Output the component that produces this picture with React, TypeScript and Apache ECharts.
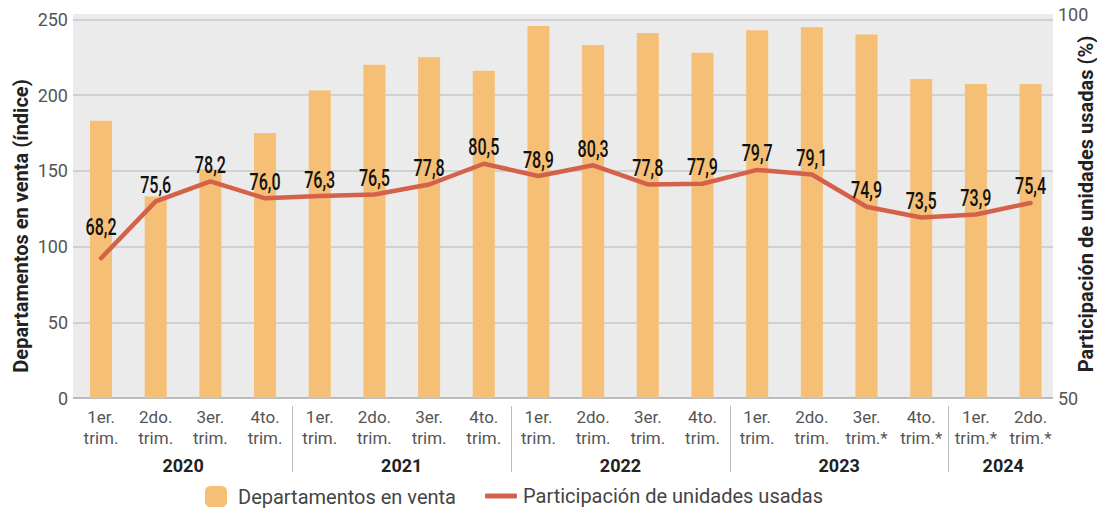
import React, { useEffect, useRef } from "react";
import * as echarts from "echarts";

const quarterLabels = [
  "1er.\ntrim.", "2do.\ntrim.", "3er.\ntrim.", "4to.\ntrim.",
  "1er.\ntrim.", "2do.\ntrim.", "3er.\ntrim.", "4to.\ntrim.",
  "1er.\ntrim.", "2do.\ntrim.", "3er.\ntrim.", "4to.\ntrim.",
  "1er.\ntrim.", "2do.\ntrim.", "3er.\ntrim.*", "4to.\ntrim.*",
  "1er.\ntrim.*", "2do.\ntrim.*",
];
const years = ["2020", "2021", "2022", "2023", "2024"];
const quartersPerYear = [4, 4, 4, 4, 2];

const barValues = [183, 133, 151, 175, 203, 220, 225, 216, 245.6, 233, 241, 228, 242.7, 244.7, 240, 210.6, 207.3, 207.3];
const lineValues = [68.2, 75.6, 78.2, 76.0, 76.3, 76.5, 77.8, 80.5, 78.9, 80.3, 77.8, 77.9, 79.7, 79.1, 74.9, 73.5, 73.9, 75.4];

const leftTicks = { min: 0, max: 253.5, interval: 50 };
const rightTicks = { min: 50, max: 100, interval: 50 };

const barName = "Departamentos en venta";
const lineName = "Participación de unidades usadas";
const leftTitle = "Departamentos en venta (índice)";
const rightTitle = "Participación de unidades usadas (%)";

const SANS = "Roboto, 'Noto Sans', sans-serif";
const LINE_COLOR = "#d4614a";
const BAR_COLOR = "#f5bf75";

export default function App() {
  const ref = useRef<HTMLDivElement>(null);
  useEffect(() => {
    if (!ref.current) return;
    const chart = echarts.init(ref.current, null, { renderer: "svg" });

    const boundaries: number[] = [];
    const centers: number[] = [];
    let acc = 0;
    quartersPerYear.forEach((n, i) => {
      centers.push(acc + n / 2);
      acc += n;
      if (i < quartersPerYear.length - 1) boundaries.push(acc);
    });
    const total = acc;

    const option: any = {
      animation: false,
      backgroundColor: "#ffffff",
      grid: [
        { left: 73, right: 44, top: 14, bottom: 113, show: true, backgroundColor: "#ebebeb", borderWidth: 0, containLabel: false },
        { left: 73.7, right: 39.1, top: 14, bottom: 113, containLabel: false },
      ],
      xAxis: [
        { gridIndex: 0, type: "value", min: 0, max: 1, show: false },
        {
          gridIndex: 1,
          type: "category",
          data: quarterLabels,
          position: "bottom",
          axisLine: { show: false },
          axisTick: { show: false },
          axisLabel: {
            color: "#555",
            fontFamily: SANS,
            fontSize: 17,
            lineHeight: 21,
            margin: 8,
            interval: 0,
          },
        },
        {
          gridIndex: 1,
          type: "value",
          min: 0,
          max: total,
          position: "bottom",
          offset: 8,
          axisLine: { show: false },
          splitLine: { show: false },
          axisTick: {
            show: true,
            customValues: boundaries,
            length: 66,
            lineStyle: { color: "#bbbbbb", width: 1 },
          },
          axisLabel: {
            customValues: centers,
            formatter: (v: number) => {
              const idx = centers.findIndex((c) => Math.abs(c - v) < 1e-6);
              return idx >= 0 ? years[idx] : "";
            },
            color: "#222",
            fontFamily: SANS,
            fontWeight: "bold",
            fontSize: 18,
            margin: 50,
          },
        },
      ],
      yAxis: [
        {
          gridIndex: 0,
          type: "value",
          position: "left",
          min: leftTicks.min,
          max: leftTicks.max,
          interval: leftTicks.interval,
          axisLine: { show: false },
          axisTick: { show: false },
          axisLabel: { color: "#555", fontFamily: SANS, fontSize: 18, margin: 5, showMaxLabel: false },
          splitLine: {
            show: true,
            showMaxLine: false,
            lineStyle: { color: ["#a8a8a8", "#c9c9c9", "#c9c9c9", "#c9c9c9", "#c9c9c9", "#c9c9c9", "#ebebeb"], width: 1.5 },
          },
        },
        {
          gridIndex: 0,
          type: "value",
          position: "right",
          min: rightTicks.min,
          max: rightTicks.max,
          interval: rightTicks.interval,
          axisLine: { show: false },
          axisTick: { show: false },
          splitLine: { show: false },
          axisLabel: { color: "#555", fontFamily: SANS, fontSize: 18, margin: 5 },
        },
        { gridIndex: 1, type: "value", min: leftTicks.min, max: leftTicks.max, show: false },
        { gridIndex: 1, type: "value", min: rightTicks.min, max: rightTicks.max, show: false },
      ],
      legend: [
        {
          data: [barName],
          left: 200,
          top: 481,
          itemWidth: 22,
          itemHeight: 21,
          icon: "roundRect",
          textStyle: { color: "#444", fontFamily: SANS, fontSize: 20, padding: [0, 0, 0, 6] },
        },
        {
          data: [{ name: lineName, icon: "roundRect", itemStyle: { color: LINE_COLOR } }],
          left: 480,
          top: 481,
          itemWidth: 32,
          itemHeight: 5,
          textStyle: { color: "#444", fontFamily: SANS, fontSize: 20, padding: [0, 0, 0, 1] },
        },
      ],
      graphic: [
        {
          type: "text",
          x: 21,
          y: 226,
          rotation: Math.PI / 2,
          style: {
            text: leftTitle,
            fill: "#222",
            font: `bold 20px ${SANS}`,
            textAlign: "center",
            textVerticalAlign: "middle",
          },
        },
        {
          type: "text",
          x: 1086,
          y: 204,
          rotation: Math.PI / 2,
          style: {
            text: rightTitle,
            fill: "#222",
            font: `bold 20px ${SANS}`,
            textAlign: "center",
            textVerticalAlign: "middle",
          },
        },
      ],
      series: [
        {
          name: barName,
          type: "bar",
          xAxisIndex: 1,
          yAxisIndex: 2,
          data: barValues,
          barWidth: 22,
          itemStyle: { color: BAR_COLOR },
          z: 2,
        },
        {
          name: lineName,
          type: "line",
          xAxisIndex: 1,
          yAxisIndex: 3,
          data: lineValues,
          symbol: "none",
          itemStyle: { color: LINE_COLOR },
          lineStyle: { color: LINE_COLOR, width: 4.5, cap: "round", join: "round" },
          z: 3,
        },
        {
          name: "labels",
          type: "custom",
          xAxisIndex: 1,
          yAxisIndex: 3,
          data: lineValues.map((v, i) => [i, v]),
          silent: true,
          z: 4,
          renderItem: (params: any, api: any) => {
            const idx = api.value(0);
            const val = api.value(1);
            const p = api.coord([idx, val]);
            const lift = params.dataIndex === 0 ? 31 : 16;
            return {
              type: "text",
              x: p[0],
              y: p[1] - lift,
              scaleX: 0.7,
              style: {
                text: Number(val).toFixed(1).replace(".", ","),
                fill: "#111",
                font: `500 23px ${SANS}`,
                textAlign: "center",
                textVerticalAlign: "middle",
              },
            };
          },
        },
      ],
    };
    chart.setOption(option);
    return () => chart.dispose();
  }, []);
  return <div ref={ref} style={{ position: "fixed", left: 0, top: 0, width: 1097, height: 511 }} />;
}
